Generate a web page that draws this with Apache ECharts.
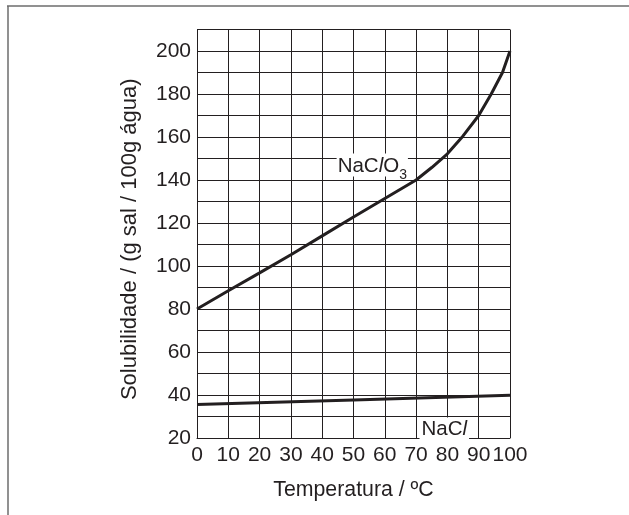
<!DOCTYPE html>
<html>
<head>
<meta charset="utf-8">
<script src="https://cdn.jsdelivr.net/npm/echarts@6/dist/echarts.min.js"></script>
<style>
html,body{margin:0;padding:0;background:#fff;}
#main{width:629px;height:515px;}
</style>
</head>
<body>
<div id="main"></div>
<script>
// Data
var xTicks = [0, 10, 20, 30, 40, 50, 60, 70, 80, 90, 100];
var naclo3 = [[0, 80], [10, 88.5], [20, 96.8], [30, 105.2], [40, 114], [50, 122.8], [60, 131.4], [70, 140], [75, 145.8], [80, 152.2], [85, 160.5], [90, 170], [94, 180], [97.6, 190], [100, 200]];
var nacl = [[0, 35.6], [50, 37.7], [100, 39.9]];
var labelNaClO3 = [56, 147];
var labelNaCl = [79, 24.4];

var ink = '#231f20';
var font = 'Liberation Sans, Arial, Helvetica, sans-serif';

var chart = echarts.init(document.getElementById('main'), null, {renderer: 'canvas'});
chart.setOption({
  animation: false,
  backgroundColor: '#fff',
  grid: {left: 197, right: 119, top: 29.5, bottom: 77, containLabel: false},
  graphic: [
    {type: 'line', shape: {x1: 7, y1: 6, x2: 629, y2: 6}, style: {stroke: '#6d6d6d', lineWidth: 1.5}},
    {type: 'line', shape: {x1: 8, y1: 6, x2: 8, y2: 515}, style: {stroke: '#6d6d6d', lineWidth: 1.5}}
  ],
  xAxis: {
    type: 'value', min: 0, max: 100, interval: 10,
    name: 'Temperatura / ºC', nameLocation: 'middle', nameGap: 42,
    nameTextStyle: {color: ink, fontSize: 21.3, fontFamily: font},
    axisLine: {show: true, lineStyle: {color: ink, width: 1}},
    axisTick: {show: false},
    axisLabel: {color: ink, fontSize: 21, fontFamily: font, margin: 7},
    splitLine: {show: true, lineStyle: {color: ink, width: 1}}
  },
  yAxis: {
    type: 'value', min: 20, max: 210, interval: 10,
    name: 'Solubilidade / (g sal / 100g água)', nameLocation: 'middle', nameGap: 56,
    nameTextStyle: {color: ink, fontSize: 22, fontFamily: font, padding: [0, 11, 0, 0]},
    axisLine: {show: true, lineStyle: {color: ink, width: 1}},
    axisTick: {show: false},
    axisLabel: {color: ink, fontSize: 21, fontFamily: font, margin: 6,
      formatter: function (v) { return (v % 20 === 0 && v <= 200) ? String(v) : ''; }},
    splitLine: {show: true, lineStyle: {color: ink, width: 1}}
  },
  series: [
    {
      type: 'line', data: naclo3, showSymbol: false, smooth: false,
      lineStyle: {color: ink, width: 3}, z: 3,
      markPoint: {
        symbol: 'rect', symbolSize: 0, silent: true,
        data: [{coord: labelNaClO3}],
        label: {
          show: true, position: 'inside',
          formatter: '{n|NaC}{i|l}{n|O}{s|3}',
          backgroundColor: '#fff', padding: [1, 1, 0, 1],
          rich: {
            n: {fontSize: 20.5, color: ink, fontFamily: font, verticalAlign: 'bottom', lineHeight: 22},
            i: {fontSize: 20.5, color: ink, fontFamily: font, fontStyle: 'italic', verticalAlign: 'bottom', lineHeight: 22},
            s: {fontSize: 14, color: ink, fontFamily: font, verticalAlign: 'bottom', lineHeight: 14, padding: [0, 0, -6, 0]}
          }
        }
      }
    },
    {
      type: 'line', data: nacl, showSymbol: false,
      lineStyle: {color: ink, width: 3}, z: 3,
      markPoint: {
        symbol: 'rect', symbolSize: 0, silent: true,
        data: [{coord: labelNaCl}],
        label: {
          show: true, position: 'inside',
          formatter: '{n|NaC}{i|l}',
          backgroundColor: '#fff', padding: [1, 2, 0, 2],
          rich: {
            n: {fontSize: 20.5, color: ink, fontFamily: font},
            i: {fontSize: 20.5, color: ink, fontFamily: font, fontStyle: 'italic'}
          }
        }
      }
    }
  ]
});
</script>
</body>
</html>
